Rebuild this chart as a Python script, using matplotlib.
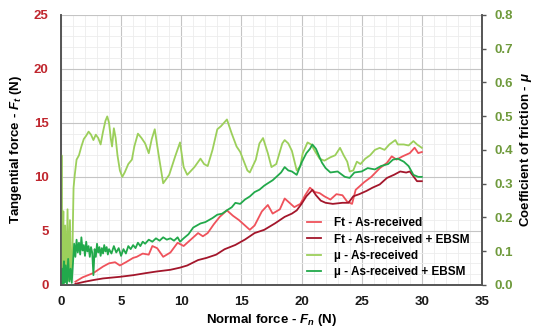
import matplotlib
matplotlib.use("Agg")
import matplotlib.pyplot as plt
from matplotlib.ticker import MultipleLocator

plt.rcParams["font.family"] = ["Liberation Sans", "DejaVu Sans"]
plt.rcParams["mathtext.fontset"] = "custom"
plt.rcParams["mathtext.rm"] = "Liberation Sans:bold"
plt.rcParams["mathtext.it"] = "Liberation Sans:bold:italic"
plt.rcParams["mathtext.bf"] = "Liberation Sans:bold"

# ---- Ft, as-received (N) ----
ft_ar_x = [1.2, 1.8, 2.7, 3.5, 4.0, 4.5, 4.9, 5.4, 6.0, 6.3, 6.8, 7.3, 7.6, 8.0, 8.5,
           9.1, 9.7, 10.2, 10.9, 11.4, 11.8, 12.2, 12.7, 13.2, 13.8, 14.3, 14.8, 15.2,
           15.7, 16.1, 16.7, 17.2, 17.6, 18.2, 18.6, 19.0, 19.4, 19.9, 20.3, 20.7, 21.1,
           21.5, 21.9, 22.4, 22.9, 23.4, 23.8, 24.2, 24.5, 25.2, 25.8, 26.5, 27.1, 27.5,
           27.9, 28.4, 29.0, 29.4, 29.7, 30.0]
ft_ar_y = [0.3, 0.7, 1.1, 1.7, 2.0, 2.1, 1.8, 2.1, 2.5, 2.6, 2.9, 2.8, 3.6, 3.4, 2.6,
           3.0, 3.9, 3.6, 4.3, 4.8, 4.5, 4.8, 5.6, 6.3, 6.9, 6.4, 6.0, 5.6,
           5.1, 5.5, 6.8, 7.4, 6.6, 7.0, 8.0, 7.6, 7.2, 7.5, 8.3, 9.0, 8.6,
           8.5, 8.2, 7.9, 8.4, 8.3, 7.7, 7.5, 8.8, 9.5, 10.0, 10.8, 11.3, 11.9,
           11.6, 11.9, 12.2, 12.7, 12.2, 12.3]

# ---- Ft, as-received + EBSM (N) ----
ft_eb_x = [1.2, 2.0, 2.7, 3.5, 4.9, 6.0, 7.1, 8.0, 9.1, 9.9, 10.5, 11.4, 12.1, 12.9,
           13.6, 14.5, 15.3, 16.1, 16.9, 17.8, 18.6, 19.2, 19.6, 20.0, 20.4, 20.9,
           21.2, 21.6, 22.0, 22.6, 23.4, 23.9, 24.3, 24.8, 25.4, 25.9, 26.5, 27.1,
           27.7, 28.2, 28.7, 29.0, 29.4, 29.6, 30.0]
ft_eb_y = [0.1, 0.3, 0.45, 0.6, 0.75, 0.9, 1.1, 1.25, 1.4, 1.6, 1.8, 2.3, 2.5, 2.8,
           3.3, 3.7, 4.2, 4.8, 5.1, 5.7, 6.3, 6.6, 6.9, 7.5, 8.2, 8.8,
           8.3, 7.8, 7.6, 7.5, 7.6, 7.6, 8.2, 8.4, 8.7, 9.0, 9.3, 9.9,
           10.2, 10.5, 10.4, 10.5, 9.9, 9.6, 9.6]

# ---- mu, as-received ----
mu_ar_x = [0.0, 0.05, 0.1, 0.2, 0.25, 0.35, 0.45, 0.55, 0.65, 0.75, 0.85, 0.95, 1.05,
           1.15, 1.3, 1.5, 1.7, 1.9, 2.1, 2.3, 2.5, 2.7, 2.9, 3.1, 3.3, 3.5, 3.7, 3.85,
           4.0, 4.15, 4.25, 4.4, 4.55, 4.7, 4.9, 5.1, 5.3, 5.6, 5.9, 6.1, 6.4, 6.7, 7.0,
           7.3, 7.55, 7.8, 8.1, 8.5, 9.0, 9.5, 9.9, 10.2, 10.5, 11.1, 11.6, 11.9, 12.2,
           12.6, 13.0, 13.3, 13.8, 14.2, 14.6, 14.9, 15.5, 15.7, 16.2, 16.5, 16.8, 17.2,
           17.5, 17.9, 18.4, 18.6, 18.9, 19.2, 19.6, 19.9, 20.1, 20.5, 20.8, 21.1, 21.5,
           21.9, 22.4, 22.8, 23.2, 23.5, 23.8, 24.0, 24.3, 24.6, 24.9, 25.3, 25.7, 26.1,
           26.5, 26.9, 27.3, 27.8, 28.0, 28.5, 28.9, 29.3, 29.6, 30.0]
mu_ar_y = [0.016, 0.384, 0.010, 0.218, 0.006, 0.176, 0.010, 0.224, 0.013, 0.192, 0.016,
           0.096, 0.288, 0.326, 0.371, 0.384, 0.410, 0.432, 0.442, 0.454, 0.445, 0.429,
           0.445, 0.435, 0.416, 0.454, 0.486, 0.499, 0.480, 0.432, 0.410, 0.464, 0.435,
           0.384, 0.339, 0.320, 0.333, 0.358, 0.371, 0.410, 0.448, 0.435, 0.419, 0.390,
           0.432, 0.461, 0.390, 0.301, 0.326, 0.381, 0.422, 0.349, 0.326, 0.349, 0.374,
           0.358, 0.352, 0.400, 0.461, 0.470, 0.490, 0.448, 0.410, 0.394, 0.339, 0.333,
           0.371, 0.419, 0.435, 0.390, 0.349, 0.358, 0.419, 0.429, 0.419, 0.397, 0.339,
           0.352, 0.390, 0.422, 0.416, 0.397, 0.374, 0.368, 0.378, 0.384, 0.406, 0.384,
           0.365, 0.336, 0.339, 0.365, 0.358, 0.374, 0.384, 0.400, 0.406, 0.400, 0.416,
           0.429, 0.416, 0.416, 0.413, 0.426, 0.416, 0.406]

# ---- mu, as-received + EBSM ----
mu_eb_x = [0.0, 0.1, 0.15, 0.25, 0.3, 0.4, 0.5, 0.6, 0.7, 0.8, 0.9, 1.0, 1.1, 1.2,
           1.3, 1.4, 1.5, 1.6, 1.7, 1.8, 1.9, 2.0, 2.1, 2.2, 2.3, 2.4, 2.5, 2.6, 2.7,
           2.8, 2.9, 3.0, 3.1, 3.2, 3.3, 3.4, 3.5, 3.6, 3.7, 3.8, 3.9, 4.0, 4.2, 4.4,
           4.6, 4.8, 5.0, 5.2, 5.4, 5.6, 5.8, 6.0, 6.2, 6.4, 6.6, 6.8, 7.0, 7.3, 7.6,
           7.9, 8.2, 8.5, 8.8, 9.1, 9.4, 9.7, 9.9, 10.2, 10.6, 11.0, 11.3, 11.6, 12.0,
           12.3, 12.6, 13.0, 13.4, 13.8, 14.2, 14.5, 14.9, 15.3, 15.7, 16.1, 16.5, 16.9,
           17.2, 17.6, 18.0, 18.3, 18.6, 18.9, 19.2, 19.6, 20.0, 20.4, 20.7, 20.9, 21.2,
           21.5, 21.7, 22.0, 22.4, 23.0, 23.6, 24.0, 24.4, 25.0, 25.5, 26.1, 26.6, 27.2,
           27.6, 28.0, 28.5, 28.9, 29.3, 29.7, 30.0]
mu_eb_y = [0.006, 0.048, 0.003, 0.070, 0.006, 0.058, 0.003, 0.077, 0.010, 0.048, 0.006,
           0.064, 0.122, 0.083, 0.134, 0.096, 0.125, 0.090, 0.141, 0.102, 0.118, 0.086,
           0.128, 0.099, 0.115, 0.083, 0.112, 0.096, 0.029, 0.106, 0.083, 0.122, 0.096,
           0.112, 0.086, 0.109, 0.093, 0.118, 0.099, 0.112, 0.090, 0.106, 0.093, 0.115,
           0.096, 0.109, 0.086, 0.106, 0.093, 0.115, 0.106, 0.118, 0.109, 0.125, 0.115,
           0.128, 0.122, 0.134, 0.128, 0.138, 0.131, 0.141, 0.134, 0.138, 0.131, 0.141,
           0.128, 0.138, 0.150, 0.170, 0.176, 0.182, 0.186, 0.192, 0.198, 0.208, 0.211,
           0.221, 0.230, 0.243, 0.240, 0.253, 0.262, 0.275, 0.282, 0.294, 0.301, 0.310,
           0.323, 0.333, 0.349, 0.339, 0.336, 0.326, 0.362, 0.390, 0.403, 0.416, 0.403,
           0.378, 0.362, 0.346, 0.333, 0.336, 0.320, 0.317, 0.333, 0.336, 0.346, 0.342,
           0.352, 0.358, 0.371, 0.374, 0.365, 0.352, 0.326, 0.320, 0.320]

series_labels = ["Ft - As-received", "Ft - As-received + EBSM",
                 "µ - As-received", "µ - As-received + EBSM"]

C_FT_AR = "#ef525b"
C_FT_EB = "#a3162b"
C_MU_AR = "#9ccf5b"
C_MU_EB = "#22a94b"

fig = plt.figure(figsize=(5.44, 3.29), dpi=100)
ax = fig.add_axes([0.112, 0.134, 0.774, 0.821])
ax2 = ax.twinx()

l1, = ax.plot(ft_ar_x, ft_ar_y, color=C_FT_AR, lw=1.3, label=series_labels[0])
l2, = ax.plot(ft_eb_x, ft_eb_y, color=C_FT_EB, lw=1.3, label=series_labels[1])
l3, = ax2.plot(mu_ar_x, mu_ar_y, color=C_MU_AR, lw=1.3, label=series_labels[2])
l4, = ax2.plot(mu_eb_x, mu_eb_y, color=C_MU_EB, lw=1.3, label=series_labels[3])

ax.set_xlim(0, 35)
ax.set_ylim(0, 25)
ax2.set_ylim(0, 0.8)

ax.xaxis.set_major_locator(MultipleLocator(5))
ax.xaxis.set_minor_locator(MultipleLocator(1))
ax.yaxis.set_major_locator(MultipleLocator(5))
ax.yaxis.set_minor_locator(MultipleLocator(1))
ax2.yaxis.set_major_locator(MultipleLocator(0.1))

ax.grid(True, which="major", color="#c4c4c4", lw=0.8)
ax.grid(True, which="minor", color="#ececec", lw=0.6)
ax.set_axisbelow(True)

for a in (ax, ax2):
    a.spines["top"].set_visible(False)
    for s in ("left", "right", "bottom"):
        a.spines[s].set_color("#555555")
        a.spines[s].set_linewidth(1.2)

ax.tick_params(axis="x", which="both", length=0, pad=8, labelsize=9.5, labelcolor="#1a1a1a")
ax.tick_params(axis="y", which="both", length=0, pad=9, labelsize=9.5, labelcolor="#c0262e")
ax2.tick_params(axis="y", which="major", length=3, width=1, color="#555555",
                pad=6, labelsize=9.5, labelcolor="#6f9a3c")
ax2.tick_params(axis="y", which="minor", length=0)
for lab in ax.get_xticklabels() + ax.get_yticklabels() + ax2.get_yticklabels():
    lab.set_fontweight("bold")

ax.set_xlabel("Normal force - $F_n$ (N)", fontsize=9.5, fontweight="bold")
ax.set_ylabel("Tangential force - $F_t$ (N)", fontsize=9.5, fontweight="bold")
ax2.set_ylabel("Coefficient of friction - $\\mu$", fontsize=9.5, fontweight="bold")
ax.xaxis.set_label_coords(0.5, -0.1)
ax.yaxis.set_label_coords(-0.087, 0.5)
ax2.yaxis.set_label_coords(1.085, 0.5)

leg = ax2.legend([l1, l2, l3, l4], series_labels, loc="lower left",
                 bbox_to_anchor=(0.568, 0.0), frameon=False, handlelength=1.2,
                 handletextpad=1.1, labelspacing=0.35, borderaxespad=0.2,
                 prop={"weight": "bold", "size": 8.5})

fig.savefig("out.png", dpi=100)
